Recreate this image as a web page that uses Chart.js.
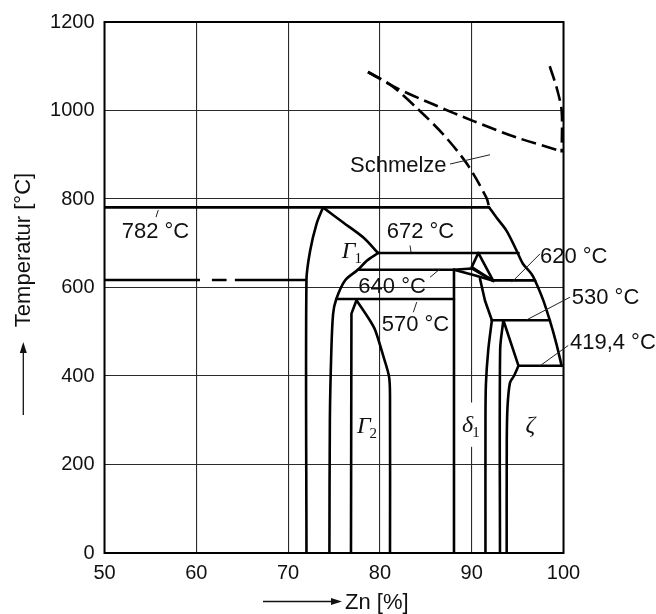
<!DOCTYPE html>
<html><head><meta charset="utf-8">
<script src="https://cdn.jsdelivr.net/npm/chart.js@4.4.1/dist/chart.umd.min.js"></script>
<style>html,body{margin:0;padding:0;background:#fff}canvas{display:block}</style>
</head><body>
<canvas id="c" width="656" height="614"></canvas>
<script>
// ---- tick labels ----
const xTickValues = [50, 60, 70, 80, 90, 100];
const yTickValues = [0, 200, 400, 600, 800, 1000, 1200];

// ---- isotherms [Zn %, T °C] ----
const iso782 = [[50, 781], [91.9, 781]];
const isoFeLeft = [[50, 617], [60.4, 617], [61.7, 617], [63.3, 617], [64.2, 617], [72.0, 617]];
const iso672 = [[79.8, 678], [95.1, 678]];
const iso640 = [[77.6, 640], [88.07, 640]];
const iso620 = [[92.35, 616], [96.9, 616]];
const iso570 = [[75.25, 574], [88.07, 574]];
const iso530 = [[92.2, 526], [98.5, 526]];
const iso419 = [[95.1, 423], [99.8, 423]];

// ---- liquidus ----
const liquidusSolid = [[91.9, 781], [92.7, 758], [93.8, 728], [94.9, 683], [95.6, 653], [96.5, 631], [96.9, 616], [97.8, 571], [98.5, 526], [99.2, 475], [99.8, 423]];
const liquidusDashed = [[78.7, 1087], [81.1, 1059], [84.0, 1006], [86.9, 946], [89.5, 879], [91.6, 803], [91.9, 781]];
const upperDashed = [[78.7, 1087], [81.8, 1051], [85.8, 1014], [90.2, 976], [94.9, 939], [99.6, 909]];
const rightDashed = [[98.5, 1100], [99.26, 1051], [99.8, 999], [99.8, 905]];

// ---- phase boundaries ----
const alphaBoundary = [[72.0, 0], [72.0, 617], [72.4, 683], [73.1, 744], [73.8, 781]];
const gamma1Upper = [[73.8, 781], [76.0, 747], [78.2, 713], [79.8, 678]];
const gammaBoundary = [[74.5, 0], [74.55, 300], [74.7, 450], [74.9, 540], [75.25, 574], [76.2, 616], [77.6, 640], [78.6, 661], [79.8, 678]];
const gamma2Left = [[76.85, 0], [76.9, 541], [77.45, 571]];
const gamma2Right = [[77.45, 571], [78.9, 526], [79.5, 503], [80.4, 443], [81.0, 398], [81.1, 353], [81.1, 0]];
const delta1Left = [[88.07, 0], [88.07, 640]];
const lensUpper = [[88.07, 640], [90.0, 643], [92.35, 615]];
const lensLower = [[88.07, 640], [90.2, 628], [92.35, 615]];
const triangle = [[90.72, 678], [90.0, 646], [92.35, 615], [90.72, 678]];
const delta1RightUpper = [[90.9, 620], [91.45, 570], [92.2, 526]];
const delta1RightLower = [[92.2, 526], [91.8, 458], [91.55, 382], [91.5, 300], [91.5, 0]];
const zetaLeft = [[93.45, 526], [93.1, 460], [93.08, 0]];
const zetaRightUpper = [[93.45, 526], [95.1, 423]];
const zetaRightLower = [[95.1, 423], [94.6, 400], [94.17, 385], [93.9, 330], [93.82, 250], [93.81, 0]];

// ---- text ----
const isoLabelTexts = ['782 °C', '672 °C', '640 °C', '570 °C', '620 °C', '530 °C', '419,4 °C'];
const isoLabelAnchors = [[51.87, 712], [80.74, 712], [77.65, 588], [80.2, 502], [97.44, 656], [100.9, 562], [100.7, 460]];
const meltText = 'Schmelze';
const meltAnchor = [76.74, 862];
const leaderLines = [
  [[55.86, 775], [55.61, 759]],
  [[83.28, 695], [83.39, 680]],
  [[85.46, 623], [86.55, 642]],
  [[83.64, 544], [84.01, 567]],
  [[97.44, 676], [94.36, 612]],
  [[100.7, 578], [96.0, 527]],
  [[100.52, 469], [97.44, 423]],
  [[87.64, 879], [92.0, 900]]
];
const phaseLabels = [['Γ', '1'], ['Γ', '2'], ['δ', '1'], ['ζ', '']];
const phaseAnchors = [[75.85, 666], [77.5, 271], [88.94, 273], [95.86, 273]];
const xTitle = 'Zn [%]';
const yTitle = 'Temperatur [°C]';

const pts = a => a.map(([x, y]) => ({ x, y }));
const solidLines = [iso782, iso672, iso640, iso620, iso570, iso530, iso419, triangle, lensUpper, lensLower,
  delta1Left, delta1RightUpper, zetaRightUpper, gamma2Left];
const curvedLines = [liquidusSolid, alphaBoundary, gamma1Upper, gammaBoundary, gamma2Right, delta1RightLower, zetaLeft, zetaRightLower];
const dashedLines = [liquidusDashed, upperDashed, rightDashed];

const base = { borderColor: '#000', borderWidth: 2.6, pointRadius: 0, showLine: true, fill: false, borderCapStyle: 'round', borderJoinStyle: 'round' };
const datasets = [];
solidLines.forEach(a => datasets.push({ ...base, data: pts(a), tension: 0 }));
curvedLines.forEach(a => datasets.push({ ...base, data: pts(a), tension: 0.3 }));
dashedLines.forEach(a => datasets.push({ ...base, data: pts(a), tension: 0.3, borderDash: [15, 6], borderCapStyle: 'butt' }));
datasets.push({ ...base, data: pts(isoFeLeft), tension: 0, borderCapStyle: 'butt',
  segment: { borderColor: c => (c.p0DataIndex % 2 === 1 ? 'rgba(0,0,0,0)' : '#000') } });

const decor = {
  id: 'decor',
  beforeDatasetsDraw(chart) {
    const { ctx } = chart;
    const xs = chart.scales.x, ys = chart.scales.y;
    ctx.save();
    ctx.fillStyle = '#fff';
    ctx.fillRect(xs.getPixelForValue(90) - 3, ys.getPixelForValue(340), 6, ys.getPixelForValue(240) - ys.getPixelForValue(340));
    ctx.restore();
  },
  afterDraw(chart) {
    const { ctx, chartArea: ca } = chart;
    const xs = chart.scales.x, ys = chart.scales.y;
    const X = v => xs.getPixelForValue(v), Y = v => ys.getPixelForValue(v);
    ctx.save();
    ctx.strokeStyle = '#000';
    ctx.lineWidth = 2;
    ctx.strokeRect(ca.left, ca.top, ca.right - ca.left, ca.bottom - ca.top);
    ctx.lineWidth = 1;
    ctx.strokeStyle = '#222';
    leaderLines.forEach(([p, q]) => {
      ctx.beginPath(); ctx.moveTo(X(p[0]), Y(p[1])); ctx.lineTo(X(q[0]), Y(q[1])); ctx.stroke();
    });
    ctx.fillStyle = '#111';
    ctx.font = '22px "Liberation Sans", Arial, sans-serif';
    ctx.textAlign = 'left';
    ctx.textBaseline = 'alphabetic';
    isoLabelTexts.forEach((t, i) => ctx.fillText(t, X(isoLabelAnchors[i][0]), Y(isoLabelAnchors[i][1])));
    ctx.fillText(meltText, X(meltAnchor[0]), Y(meltAnchor[1]));
    phaseLabels.forEach(([g, s], i) => {
      const x = X(phaseAnchors[i][0]), y = Y(phaseAnchors[i][1]);
      ctx.font = 'italic 24px "Liberation Serif", "Times New Roman", serif';
      ctx.fillText(g, x, y);
      const w = ctx.measureText(g).width;
      if (s) {
        ctx.font = '15px "Liberation Serif", serif';
        ctx.fillText(s, x + w - 1, y + 5);
      }
    });
    ctx.font = '22px "Liberation Sans", Arial, sans-serif';
    ctx.save();
    ctx.translate(24, 250);
    ctx.rotate(-Math.PI / 2);
    ctx.textAlign = 'center';
    ctx.textBaseline = 'middle';
    ctx.fillText(yTitle, 0, 0);
    ctx.restore();
    ctx.strokeStyle = '#111';
    ctx.lineWidth = 1.3;
    ctx.beginPath(); ctx.moveTo(23.3, 415); ctx.lineTo(23.3, 350); ctx.stroke();
    ctx.beginPath(); ctx.moveTo(23.3, 342); ctx.lineTo(19.8, 353); ctx.lineTo(26.8, 353); ctx.closePath(); ctx.fill();
    ctx.textAlign = 'left';
    ctx.textBaseline = 'alphabetic';
    ctx.fillText(xTitle, 345, 609);
    ctx.beginPath(); ctx.moveTo(263, 601.5); ctx.lineTo(333, 601.5); ctx.stroke();
    ctx.beginPath(); ctx.moveTo(342, 601.5); ctx.lineTo(331, 598); ctx.lineTo(331, 605); ctx.closePath(); ctx.fill();
    ctx.restore();
  }
};

const tickFont = { family: '"Liberation Sans", Arial, sans-serif', size: 20 };
new Chart(document.getElementById('c'), {
  type: 'scatter',
  data: { datasets },
  options: {
    responsive: false,
    animation: false,
    layout: { padding: { left: 0, top: 21, right: 92.5, bottom: 0 } },
    plugins: { legend: { display: false }, tooltip: { enabled: false } },
    scales: {
      x: {
        type: 'linear', min: 50, max: 100,
        afterBuildTicks: s => { s.ticks = xTickValues.map(v => ({ value: v })); },
        afterFit: s => { s.height = 61; },
        grid: { color: '#2a2a2a', lineWidth: 1.1, drawTicks: false },
        border: { display: false },
        ticks: { font: tickFont, color: '#111', padding: 8, maxRotation: 0, autoSkip: false, callback: v => String(v) }
      },
      y: {
        type: 'linear', min: 0, max: 1200,
        afterBuildTicks: s => { s.ticks = yTickValues.map(v => ({ value: v })); },
        afterFit: s => { s.width = 104.5; },
        grid: { color: '#2a2a2a', lineWidth: 1.1, drawTicks: false },
        border: { display: false },
        ticks: { font: tickFont, color: '#111', padding: 10, autoSkip: false, callback: v => String(v) }
      }
    }
  },
  plugins: [decor]
});
</script>
</body></html>
